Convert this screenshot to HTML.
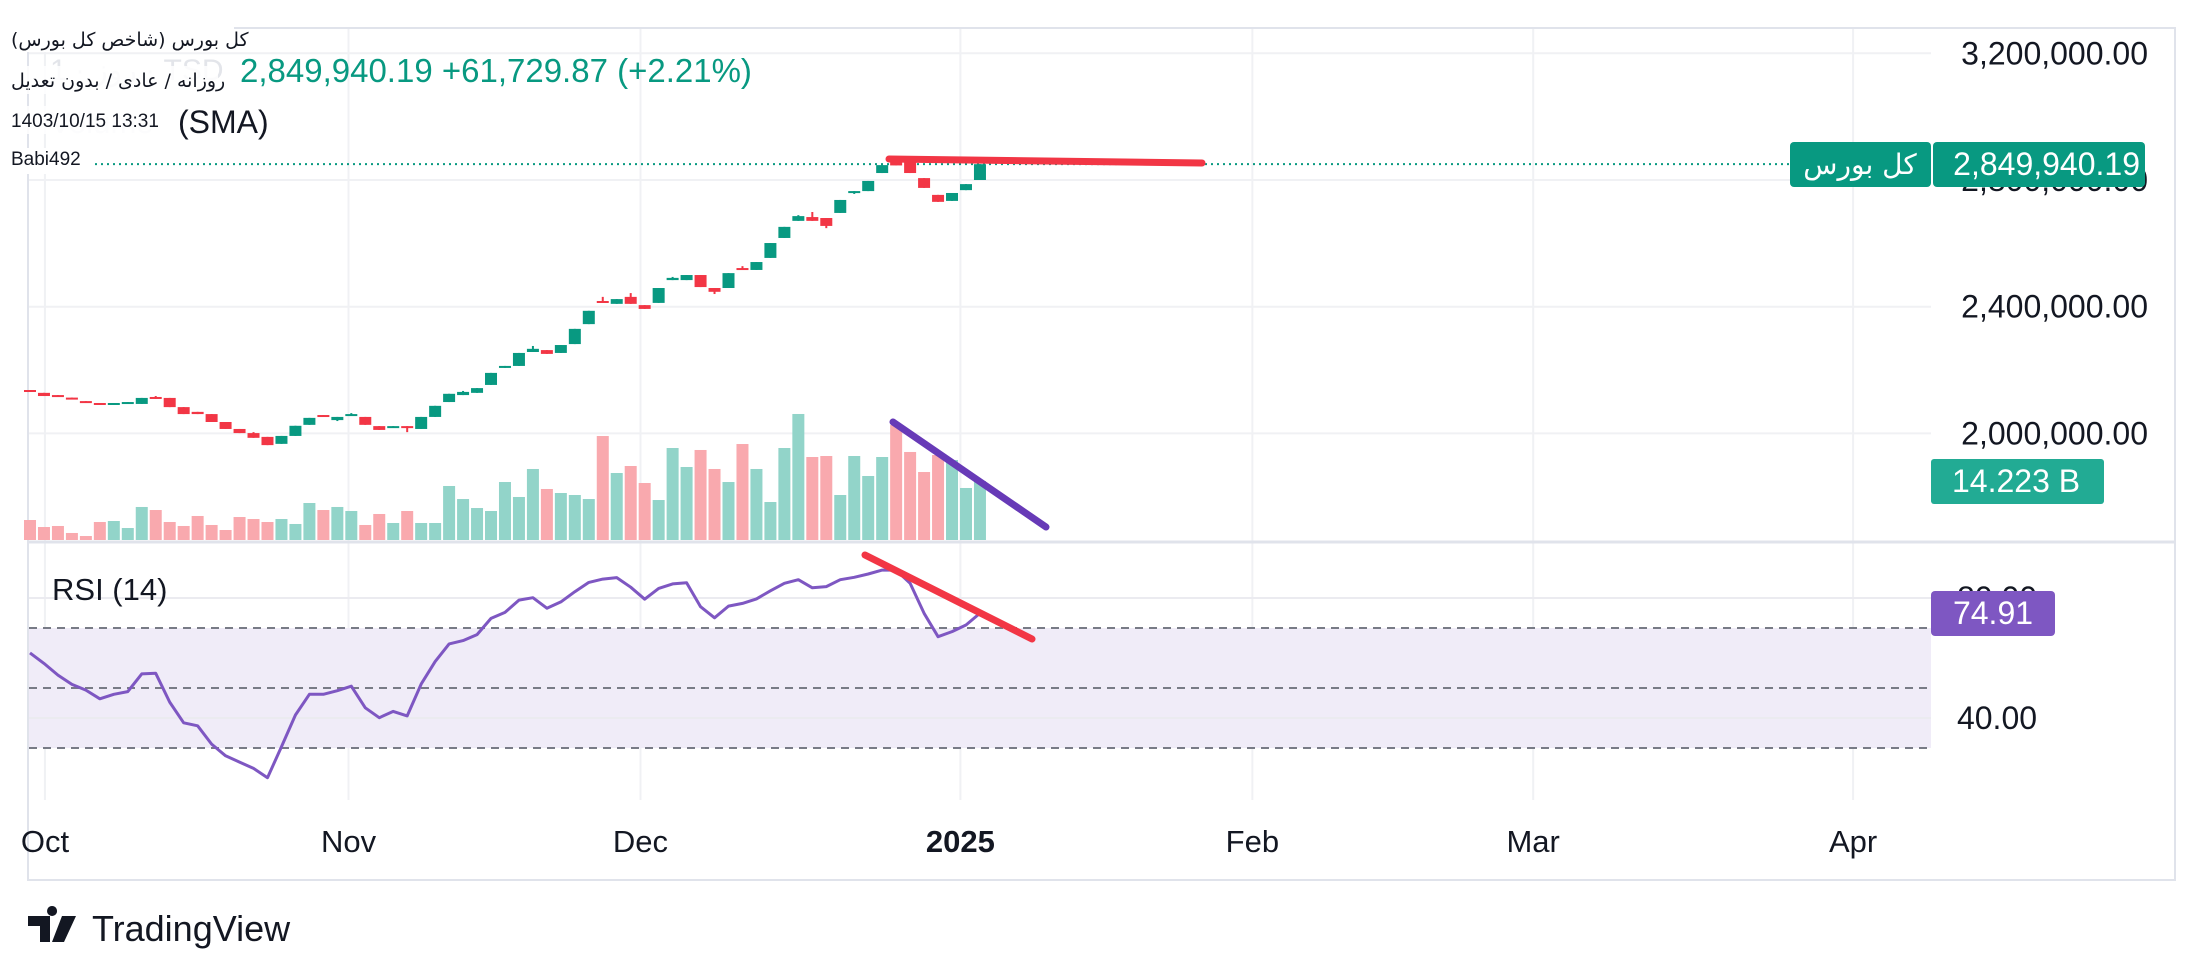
<!DOCTYPE html>
<html><head><meta charset="utf-8"><style>
html,body{margin:0;padding:0;background:#fff;}
svg{display:block;font-family:"Liberation Sans","DejaVu Sans",sans-serif;}
</style></head><body>
<svg id="chart" width="2201" height="978" viewBox="0 0 2201 978" xmlns="http://www.w3.org/2000/svg">
<rect x="0" y="0" width="2201" height="978" fill="#fff"/>
<g id="grid"></g>
<g id="rsiBg"></g>
<g id="vol"></g>
<g id="candles"></g>
<g id="rsiLine"></g>
<g id="draw">
  <line x1="889" y1="159" x2="1202" y2="163" stroke="#f23645" stroke-width="7" stroke-linecap="round"/>
  <line x1="893" y1="422" x2="1046" y2="527" stroke="#673ab7" stroke-width="7" stroke-linecap="round"/>
  <line x1="865" y1="555" x2="1032" y2="639" stroke="#f23645" stroke-width="7" stroke-linecap="round"/>
</g>
<g id="axes"></g>
<g id="legend">
  <text x="50" y="80" font-size="30" fill="#e3e5ea">1 · روز · TSD</text>
  <text x="50" y="133" font-size="31" fill="#e6e8ed">Volume</text>
  <rect x="8" y="24" width="226" height="28" fill="#fff"/>
  <text x="11" y="46" font-size="19" fill="#131722" font-family="DejaVu Sans, sans-serif">کل بورس (شاخص کل بورس)</text>
  <text x="240" y="82" font-size="33" fill="#089981">2,849,940.19  +61,729.87 (+2.21%)</text>
  <rect x="8" y="66" width="210" height="28" fill="#fff" fill-opacity="0.85"/>
  <text x="11" y="87" font-size="19" fill="#131722" font-family="DejaVu Sans, sans-serif">روزانه / عادی / بدون تعدیل</text>
  <rect x="8" y="106" width="172" height="28" fill="#fff" fill-opacity="0.85"/>
  <text x="11" y="127" font-size="19" fill="#131722">1403/10/15 13:31</text>
  <text x="178" y="133" font-size="32" fill="#131722">(SMA)</text>
  <rect x="8" y="148" width="84" height="26" fill="#fff"/>
  <text x="11" y="165" font-size="19" fill="#131722">Babi492</text>
  <text x="52" y="600" font-size="31" fill="#131722">RSI (14)</text>
</g>
<g id="badges">
  <rect x="1790" y="142" width="141" height="45" rx="4" fill="#089981"/>
  <text x="1860" y="174" font-size="28" fill="#fff" text-anchor="middle" font-family="DejaVu Sans, sans-serif">کل بورس</text>
  <rect x="1933" y="142" width="212" height="45" rx="4" fill="#089981"/>
  <text x="2140" y="175" font-size="32" fill="#fff" text-anchor="end">2,849,940.19</text>
  <rect x="1931" y="459" width="173" height="45" rx="3" fill="#22ab94"/>
  <text x="1952" y="492" font-size="32" fill="#fff">14.223 B</text>
  <rect x="1931" y="591" width="124" height="45" rx="4" fill="#7e57c2"/>
  <text x="1993" y="624" font-size="32" fill="#fff" text-anchor="middle">74.91</text>
</g>
<g>
  <path d="M28 916 h22 v26 h-10 v-16 h-12z M52 916 a5 5 0 1 1 0.1 0z M62 916 h14 l-12 26 h-12z" fill="#131722"/>
  <text x="92" y="941" font-size="36" fill="#131722">TradingView</text>
</g>
</svg>
<script>
const categories = ["Oct","Nov","Dec","2025","Feb","Mar","Apr"];
const categoryIdx = [1.07,22.8,43.7,66.6,87.5,107.6,130.5];
const opens = [2137,2128,2121,2113,2102,2096,2090,2093,2093,2115,2112,2083,2068,2061,2036,2014,2001,1989,1967,1992,2027,2058,2042,2055,2052,2023,2017,2023,2014,2052,2099,2121,2128,2153,2207,2213,2257,2263,2254,2282,2345,2418,2409,2431,2405,2412,2484,2484,2500,2459,2459,2522,2516,2554,2617,2671,2683,2680,2696,2759,2765,2822,2858,2857,2806,2753,2734,2768,2800];
const closes = [2131,2118,2115,2107,2096,2090,2096,2099,2112,2109,2083,2061,2061,2036,2014,2001,1986,1963,1992,2024,2049,2052,2052,2061,2027,2011,2023,2017,2052,2087,2125,2131,2143,2191,2213,2254,2267,2251,2279,2330,2387,2412,2424,2409,2393,2459,2491,2500,2462,2447,2506,2516,2541,2601,2652,2686,2671,2655,2737,2765,2797,2847,2846,2822,2775,2731,2759,2787,2849.94];
const highs = [2137,2128,2121,2113,2102,2096,2096,2099,2112,2118,2112,2083,2068,2061,2036,2014,2004,1989,1992,2024,2049,2058,2052,2064,2052,2023,2023,2023,2052,2087,2125,2134,2143,2191,2213,2254,2276,2263,2279,2330,2387,2431,2424,2443,2405,2459,2494,2500,2500,2459,2506,2528,2541,2601,2652,2689,2699,2680,2737,2765,2797,2847,2862,2857,2806,2753,2759,2787,2850];
const lows = [2131,2118,2115,2107,2096,2090,2090,2093,2093,2109,2083,2061,2061,2036,2014,2001,1986,1963,1967,1992,2027,2052,2039,2055,2027,2011,2017,2004,2014,2052,2099,2121,2128,2153,2207,2213,2257,2251,2254,2282,2345,2412,2409,2409,2393,2412,2484,2484,2462,2440,2459,2516,2516,2554,2617,2671,2671,2648,2696,2756,2765,2822,2846,2822,2775,2731,2734,2768,2800];
const volumes = [4.82,3.13,3.38,1.69,0.96,4.34,4.58,2.89,7.96,7.23,4.34,3.38,5.79,3.62,2.41,5.54,5.06,4.34,5.06,3.86,8.92,7.23,7.96,6.99,3.62,6.27,4.10,6.99,4.10,4.10,13.02,9.88,7.71,6.99,13.98,10.37,17.12,12.30,11.33,10.85,9.88,25.07,16.15,17.84,13.74,9.64,22.18,17.60,21.70,17.12,13.98,23.14,17.12,9.16,22.18,30.38,20.01,20.25,10.85,20.25,15.43,20.01,27.72,21.22,16.39,20.49,19.29,12.54,14.22];
const rsi = [61.7,58.2,54.3,51.2,49.3,46.4,47.9,48.8,54.7,54.9,45.3,38.4,37.4,31.3,27.4,25.3,23.2,20.1,30.4,41.0,47.9,47.9,49.1,50.6,43.4,40.1,42.2,40.7,51.3,58.8,64.7,65.8,67.8,73.2,75.2,79.3,80.1,76.6,78.7,82.1,85.2,86.3,86.8,83.6,79.6,83.2,84.7,85.1,77.1,73.4,77.3,78.2,79.7,82.4,84.9,86.1,83.4,83.8,86.1,86.9,88.0,89.3,89.3,84.9,74.9,67.1,68.8,71.0,74.91];
const priceTicks = [3200000,2800000,2400000,2000000];
const priceTickLabels = ["3,200,000.00","2,800,000.00","2,400,000.00","2,000,000.00"];
const rsiLevels = [70,50,30];
const rsiGrid = [80,40];
const rsiTickLabels = ["80.00","40.00"];
const lastPrice = 2849.94;

const NS="http://www.w3.org/2000/svg";
const xOf = i => 30 + 13.97*i;
const yP = p => 180 + (2800 - p)*0.31675;
const yV = v => 540 - v*4.148;
const yR = r => 598 + (80 - r)*3;
function mk(tag, parent, attrs){const e=document.createElementNS(NS,tag);for(const k in attrs)e.setAttribute(k,attrs[k]);parent.appendChild(e);return e;}

const grid=document.getElementById('grid');
const axes=document.getElementById('axes');
let f=mk('rect',grid,{x:28,y:28,width:2147,height:852,fill:'none',stroke:'#e0e3eb','stroke-width':2});


categories.forEach((c,k)=>{
  const x=xOf(categoryIdx[k]);
  let l=mk('line',grid,{x1:x,y1:29,x2:x,y2:800,stroke:'#f0f1f4','stroke-width':2});
  
  
  let t=mk('text',axes,{x:x,y:852,'font-size':31,fill:'#131722','text-anchor':'middle','font-weight':c==='2025'?'bold':'normal'});
  t.textContent=c;
  
  
});
priceTicks.forEach((p,k)=>{
  const y=yP(p/1000);
  let l=mk('line',grid,{x1:29,y1:y,x2:1931,y2:y,stroke:'#f0f1f4','stroke-width':2});
  
  
  let t=mk('text',axes,{x:2148,y:y+11,'font-size':32,fill:'#131722','text-anchor':'end'});
  t.textContent=priceTickLabels[k];
  
  
});
let sep=mk('line',grid,{x1:28,y1:542,x2:2175,y2:542,stroke:'#e0e3eb','stroke-width':3});


const rb=document.getElementById('rsiBg');
let band=mk('rect',rb,{x:29,y:yR(70),width:1902,height:yR(30)-yR(70),fill:'#f0ecf8'});


rsiGrid.forEach((r,k)=>{
  let l=mk('line',rb,{x1:29,y1:yR(r),x2:1931,y2:yR(r),stroke:'#ebebf0','stroke-width':2});
  
  
  let t=mk('text',axes,{x:1997,y:yR(r)+11,'font-size':32,fill:'#131722','text-anchor':'middle'});
  t.textContent=rsiTickLabels[k];
  
  
});
rsiLevels.forEach(r=>{
  let l=mk('line',rb,{x1:29,y1:yR(r),x2:1931,y2:yR(r),stroke:'#787b86','stroke-width':2,'stroke-dasharray':'8 6'});
  
  
});
let lp=mk('line',grid,{x1:29,y1:yP(lastPrice),x2:1790,y2:yP(lastPrice),stroke:'#089981','stroke-width':2,'stroke-dasharray':'2 4'});


const vg=document.getElementById('vol');
volumes.forEach((v,i)=>{
  const up=closes[i]>=opens[i];
  const y=yV(v);
  let r=mk('rect',vg,{x:xOf(i)-6,y:y,width:12,height:540-y,fill:up?'#92d4c9':'#f9a9ae'});
  
  
});
const cg=document.getElementById('candles');
opens.forEach((o,i)=>{
  const c=closes[i];const up=c>=o;const col=up?'#089981':'#f23645';
  const x=xOf(i);
  let w=mk('line',cg,{x1:x,y1:yP(highs[i]),x2:x,y2:yP(lows[i]),stroke:col,'stroke-width':2});
  
  
  const t=yP(Math.max(o,c)),b=yP(Math.min(o,c));
  let r=mk('rect',cg,{x:x-6,y:t,width:12,height:Math.max(2,b-t),fill:col});
  
  
});
const rg=document.getElementById('rsiLine');
let pl=mk('polyline',rg,{points:rsi.map((r,i)=>xOf(i)+','+yR(r)).join(' '),fill:'none',stroke:'#7e57c2','stroke-width':3,'stroke-linejoin':'round'});


const svg=document.getElementById('chart');
svg.appendChild(document.getElementById('draw'));
svg.appendChild(document.getElementById('legend'));
svg.appendChild(document.getElementById('badges'));
</script>
</body></html>
